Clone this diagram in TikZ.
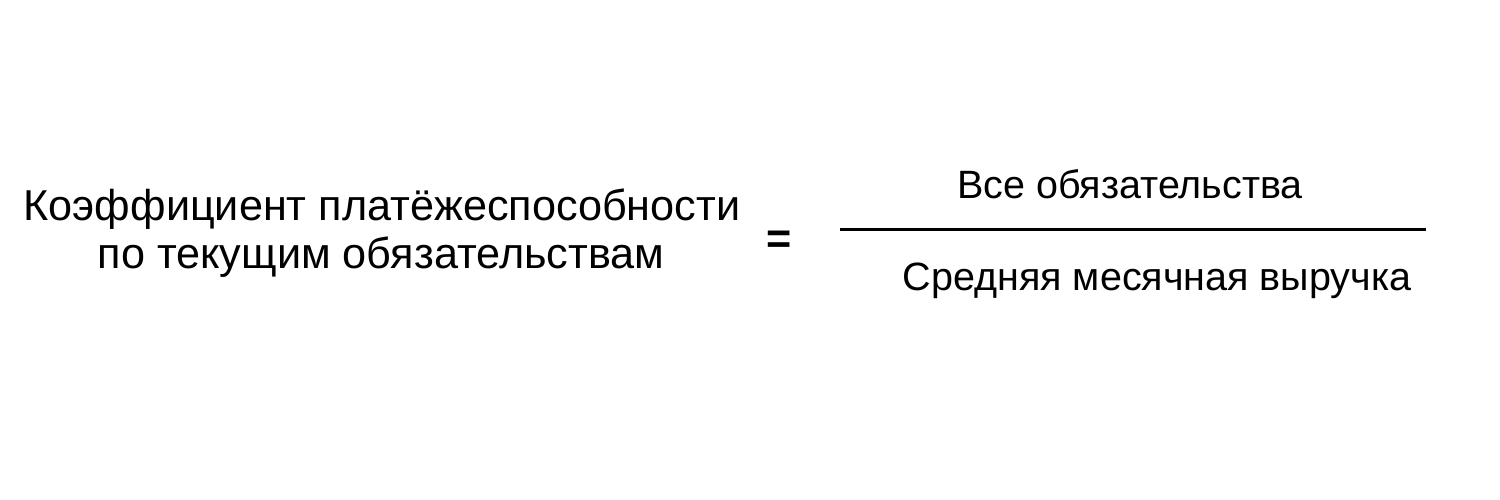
\documentclass[tikz,border=0pt]{standalone}
\usepackage{fontspec}
\setmainfont{Liberation Sans}
\begin{document}
\begin{tikzpicture}[x=1pt,y=-1pt,
  lbl/.style={inner sep=0pt,anchor=base,font=\fontsize{43.2}{48}\selectfont},
  rlbl/.style={inner sep=0pt,anchor=base,font=\fontsize{39.5}{44}\selectfont}]
\useasboundingbox[fill=white] (0,0) rectangle (1500,500);
\node[lbl] (l1) at (382,220) {Коэффициент платёжеспособности};
\node[lbl] (l2) at (381,268) {по текущим обязательствам};
\node[lbl] (eq) at (779,253) {\textbf{=}};
\node[rlbl] (num) at (1130,198) {Все обязательства};
\node[rlbl] (den) at (1157,290) {Средняя месячная выручка};
\coordinate (fa) at (840,229);
\coordinate (fb) at (1426,229);
\draw[line width=3pt] (fa) -- (fb);
\end{tikzpicture}
\end{document}
